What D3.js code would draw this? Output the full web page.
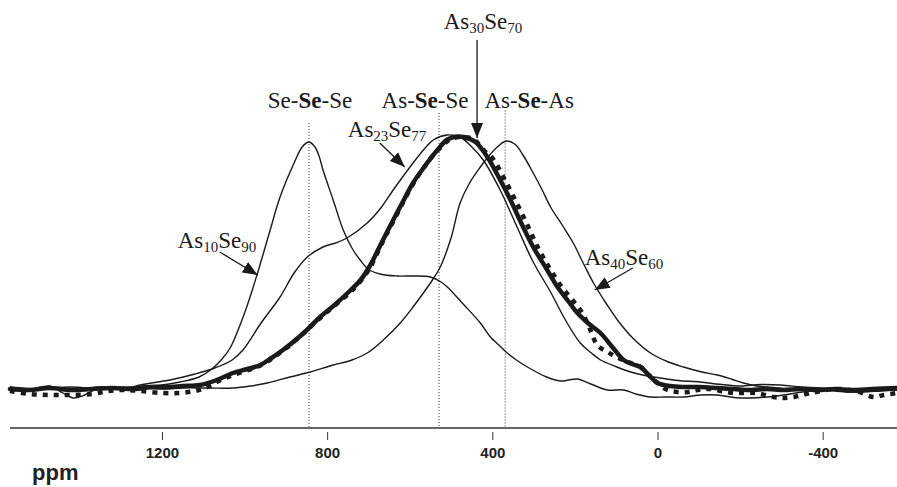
<!DOCTYPE html>
<meta charset="utf-8">
<style>

body { margin: 0; background: #fff; }
svg { display: block; background: #fff; }

.tick text {
  font: bold 15px "Liberation Sans", Arial, sans-serif;
  fill: #222;
}

.label {
  font: 23px "Liberation Serif", "Times New Roman", serif;
  fill: #1a1a1a;
}

.spec { fill: none; stroke: #1a1a1a; stroke-linejoin: round; }
.thin { stroke-width: 1.4px; }
.thick { stroke-width: 4.5px; stroke-linecap: round; }
.dots { stroke-width: 4.5px; stroke-dasharray: 5,6; }
.ref { stroke: #333; stroke-width: 1px; stroke-dasharray: 1,2; }

</style>
<svg width="897" height="487"></svg>
<script src="https://d3js.org/d3.v7.min.js"></script>
<script>

// 77Se NMR spectra, [ppm, intensity]
var as10se90 = [[1568,0.4],[1520,-0.8],[1472,0.4],[1423,-1.2],[1350,0.4],[1300,-0.4],[1250,0.8],[1200,1.2],[1156,2.4],[1110,4.4],[1080,7.5],[1055,11.5],[1035,16],[1000,30],[970,45.2],[940,62],[914,76.4],[880,90],[860,96.5],[844,98.4],[830,96.5],[820,93],[810,87.2],[785,75],[761,63.2],[740,56],[720,51.2],[700,47.5],[670,45.5],[630,44.8],[590,44.8],[550,44.4],[525,42.5],[509,40.4],[470,33.5],[429,26],[405,20.5],[380,16.5],[364,14],[340,11],[315,8.4],[270,4.5],[235,2.8],[215,3.2],[194,3.6],[160,1.5],[121,-0.8],[82,-0.8],[50,-2.5],[17,-3.6],[-20,-3.6],[-63,-3.6],[-105,-2.8],[-145,-2.8],[-185,-3.8],[-225,-4],[-265,-3.6],[-305,-2.8],[-350,-1.6],[-388,-0.8],[-430,-1.2],[-468,-1.6],[-520,-0.8],[-580,0]];

var as23se77 = [[1568,0],[1520,-0.4],[1472,0.8],[1440,-2],[1415,-4],[1390,-3],[1360,-0.5],[1320,0.4],[1290,-0.4],[1253,1.2],[1181,3.2],[1120,5.6],[1072,8],[1030,11.2],[1004,15.2],[960,26],[914,36.4],[880,46],[848,52.4],[810,56.4],[780,58],[752,60],[703,66],[670,72],[640,79.2],[592,90],[560,96.5],[543,99.2],[509,101.2],[478,100.4],[450,96.5],[422,91.2],[381,79.2],[339,64],[301,50.4],[259,38.4],[223,27.2],[187,18],[160,14],[138,11.2],[100,8.5],[65,6.4],[30,5],[-7,4],[-50,3],[-104,2.4],[-150,1.5],[-201,0.8],[-250,1.4],[-298,1.2],[-350,0.4],[-395,0],[-440,-1],[-492,-1.6],[-540,-1.2],[-580,-0.8]];

var as30se70 = [[1568,-0.4],[1520,-0.8],[1472,0],[1420,-0.8],[1370,-0.4],[1320,0],[1270,-0.4],[1220,0.4],[1188,0.4],[1150,0.8],[1108,1.2],[1070,3],[1028,6],[995,7.5],[962,9.2],[935,12],[907,15.2],[860,21.5],[817,28.4],[780,33.5],[744,39],[720,43],[696,49],[670,57.5],[640,67.2],[615,75],[592,82],[560,89.5],[533,95.2],[509,99.4],[485,100.6],[470,100.4],[441,98.4],[412,92.4],[385,84.5],[356,75.2],[330,66],[301,56.4],[270,48],[242,40.4],[215,34.5],[194,30],[165,25.5],[138,22],[110,16.5],[82,11.2],[60,9.5],[41,8.4],[20,5],[0,2],[-30,0.8],[-63,0.4],[-100,0.4],[-145,0],[-185,-0.4],[-225,-0.8],[-265,-0.4],[-305,-0.8],[-345,-0.4],[-388,-0.8],[-430,-0.4],[-468,-0.8],[-520,-0.4],[-580,0]];

// dotted trace drawn along the As30Se70 spectrum
var as30se70b = [[1568,-1.2],[1520,-2.4],[1472,-2.8],[1423,-2.8],[1370,-2.4],[1330,-1.2],[1290,-0.8],[1250,-1.2],[1200,-2],[1160,-2],[1120,-1.2],[1090,0.4],[1060,3],[1028,5.2],[962,9],[907,15],[860,21.5],[817,28],[744,38.4],[720,42.6],[696,48.2],[670,57],[640,66.6],[592,81.6],[560,89.5],[533,95],[500,99.6],[470,100.4],[445,99.4],[420,95],[400,92],[372,84],[344,75],[316,65.5],[289,56],[260,47.5],[230,40],[205,35],[182,30],[162,23],[146,17.2],[121,14.4],[95,12],[65,10],[41,8.4],[20,5],[0,2],[-24,-0.8],[-51,-1.6],[-75,-1.6],[-97,-0.8],[-128,-0.4],[-160,-1.4],[-184,-2],[-237,-2],[-281,-3.6],[-305,-4],[-330,-3.6],[-371,-2],[-432,-0.4],[-480,-1.2],[-524,-3.6],[-548,-2.8],[-580,-2]];

var as40se60 = [[1568,0.4],[1500,-0.4],[1420,0.4],[1350,-0.4],[1280,0.4],[1200,-0.4],[1150,0],[1091,0],[1028,0],[985,0.8],[945,2],[890,4.4],[841,6.4],[785,9.2],[740,11.2],[703,14],[664,19.2],[623,26],[592,32.4],[545,43.2],[526,48.4],[500,60],[478,74],[455,82],[429,88.4],[405,93.5],[388,96.4],[366,98.8],[345,97.5],[325,93],[301,86],[280,79.5],[259,72.4],[230,65],[204,58],[180,50],[155,42],[125,34],[97,27.2],[60,20],[17,14],[-25,10.5],[-63,8.4],[-105,6.5],[-145,5.2],[-180,3.5],[-208,2],[-240,0.8],[-267,0.4],[-347,-0.8],[-400,-0.4],[-468,-1.6],[-520,-1.2],[-580,-0.8]];

var ppmTicks = [1200, 800, 400, 0, -400];

// Se environments and their shifts
var siteNames = ["Se-Se-Se", "As-Se-Se", "As-Se-As"];
var sitePpm = [844, 529, 369];

var svg = d3.select("svg"),
    width = +svg.attr("width"),
    height = +svg.attr("height"),
    axisY = 428;

var x = d3.scaleLinear().domain([1568, -580]).range([10, 897]);
var y = d3.scaleLinear().domain([0, 100]).range([388, 138]);

var line = d3.line()
    .x(function(d) { return x(d[0]); })
    .y(function(d) { return y(d[1]); })
    .curve(d3.curveCatmullRom.alpha(0.5));

svg.append("defs").append("marker")
    .attr("id", "head")
    .attr("viewBox", "0 0 15 12")
    .attr("refX", 15).attr("refY", 6)
    .attr("markerWidth", 15).attr("markerHeight", 12)
    .attr("markerUnits", "userSpaceOnUse")
    .attr("orient", "auto")
  .append("path")
    .attr("d", "M0,0L15,6L0,12Z")
    .attr("fill", "#1a1a1a");

// dotted reference lines
var siteTop = [106, 110, 111];
svg.selectAll(".ref")
    .data(sitePpm)
  .enter().append("line")
    .attr("class", "ref")
    .attr("x1", function(d) { return x(d); })
    .attr("x2", function(d) { return x(d); })
    .attr("y1", function(d, i) { return y(siteTop[i]); })
    .attr("y2", axisY);

// spectra
svg.append("path").datum(as10se90).attr("class", "spec thin").attr("d", line);
svg.append("path").datum(as23se77).attr("class", "spec thin").attr("d", line);
svg.append("path").datum(as40se60).attr("class", "spec thin").attr("d", line);
svg.append("path").datum(as30se70b).attr("class", "spec dots").attr("d", line);
svg.append("path").datum(as30se70).attr("class", "spec thick").attr("d", line);

// axis
svg.append("line")
    .attr("x1", 10).attr("x2", width)
    .attr("y1", axisY).attr("y2", axisY)
    .attr("stroke", "#333").attr("stroke-width", 1.6);

var gx = svg.append("g")
    .attr("transform", "translate(0," + (axisY + 4) + ")")
    .call(d3.axisBottom(x)
      .tickValues(ppmTicks)
      .tickFormat(function(d) { return "" + d; })
      .tickSize(8)
      .tickPadding(7));
gx.select(".domain").remove();
gx.selectAll(".tick line").attr("stroke", "#333");

svg.append("text")
    .attr("x", 32).attr("y", 480)
    .style("font", "bold 22px 'Liberation Sans', Arial, sans-serif")
    .style("fill", "#222")
    .text("ppm");

// site labels, middle Se in bold
var siteDx = [1, -14, 24];
siteNames.forEach(function(name, i) {
  var t = svg.append("text")
      .attr("class", "label")
      .attr("x", x(sitePpm[i]) + siteDx[i])
      .attr("y", 108)
      .attr("text-anchor", "middle");
  name.split("-").forEach(function(p, j) {
    if (j > 0) t.append("tspan").text("-");
    t.append("tspan").text(p).style("font-weight", j == 1 ? "bold" : "normal");
  });
});

// composition labels with subscripts
function formula(px, py, str, anchor) {
  var t = svg.append("text")
      .attr("class", "label")
      .attr("x", px).attr("y", py)
      .attr("text-anchor", anchor);
  var re = /([A-Za-z]+)(\d+)/g, m, first = true;
  while ((m = re.exec(str))) {
    t.append("tspan").text(m[1]).attr("dy", first ? 0 : -4);
    t.append("tspan").text(m[2]).attr("font-size", 15).attr("dy", 4);
    first = false;
  }
}

var notes = [
  {name: "As30Se70", tip: [437, 100], tail: [0, -98], text: [6, -11], anchor: "middle"},
  {name: "As23Se77", tip: [612, 88.4], tail: [-25, -24], text: [-32, -6], anchor: "start"},
  {name: "As10Se90", tip: [968, 45.2], tail: [-38, -23], text: [-42, -4], anchor: "start"},
  {name: "As40Se60", tip: [152, 39.2], tail: [38, -22], text: [-48, -3], anchor: "start"}
];

notes.forEach(function(n) {
  var tx = x(n.tip[0]), ty = y(n.tip[1]),
      sx = tx + n.tail[0], sy = ty + n.tail[1];
  svg.append("line")
      .attr("x1", sx).attr("y1", sy)
      .attr("x2", tx).attr("y2", ty)
      .attr("stroke", "#1a1a1a").attr("stroke-width", 1.3)
      .attr("marker-end", "url(#head)");
  formula(sx + n.text[0], sy + n.text[1], n.name, n.anchor);
});

</script>
